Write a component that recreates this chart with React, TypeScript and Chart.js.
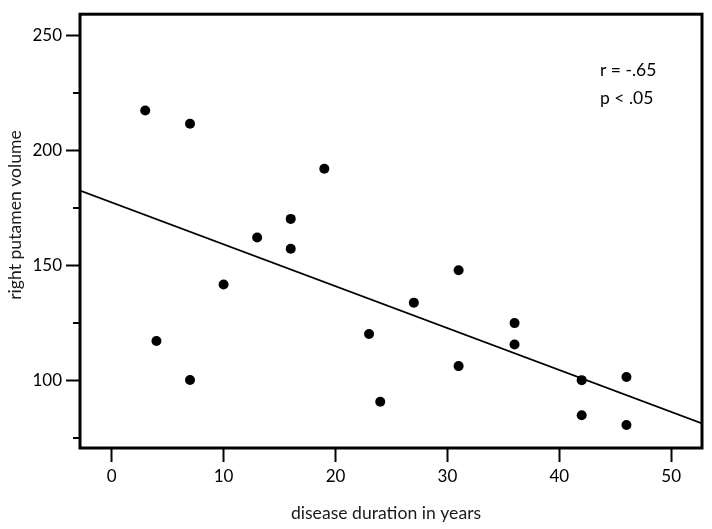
import React, { useEffect, useRef } from "react";
import { Chart, registerables } from "chart.js";

Chart.register(...registerables);

const durationYears = [3, 7, 19, 16, 13, 16, 10, 31, 27, 23, 36, 36, 31, 24, 42, 46, 42, 46, 4, 7];
const putamenVolume = [217.5, 211.8, 192.2, 170.4, 162.3, 157.4, 141.9, 148.1, 134, 120.4, 125.1, 115.8, 106.4, 90.9, 100.3, 101.7, 85, 80.8, 117.3, 100.4];
const fitLineX = [-2.83, 52.75];
const fitLineY = [182.7, 81.5];
const xTicks = [0, 10, 20, 30, 40, 50];
const yTicks = [100, 150, 200, 250];
const yMinorTicks = [75, 125, 175, 225];
const xTitle = "disease duration in years";
const yTitle = "right putamen volume";
const statsLines = ["r = -.65", "p < .05"];

const FONT = "Lato, 'Open Sans', sans-serif";

export default function App() {
  const ref = useRef<HTMLCanvasElement | null>(null);

  useEffect(() => {
    if (!ref.current) return;
    const framePlugin = {
      id: "frame",
      afterDraw(chart: any) {
        const { ctx, chartArea } = chart;
        const ys = chart.scales.y;
        ctx.save();
        ctx.strokeStyle = "#000";
        ctx.lineWidth = 3;
        ctx.strokeRect(chartArea.left, chartArea.top, chartArea.right - chartArea.left, chartArea.bottom - chartArea.top);
        // minor ticks on y
        ctx.lineWidth = 2;
        ctx.beginPath();
        yMinorTicks.forEach((v) => {
          const py = Math.round(ys.getPixelForValue(v));
          ctx.moveTo(chartArea.left - 7, py);
          ctx.lineTo(chartArea.left, py);
        });
        ctx.stroke();
        // titles
        ctx.fillStyle = "#1a1a1a";
        ctx.font = `17.6px ${FONT}`;
        ctx.textAlign = "center";
        ctx.textBaseline = "middle";
        ctx.fillText(xTitle, 386, 513);
        ctx.save();
        ctx.translate(15, 215);
        ctx.rotate(-Math.PI / 2);
        ctx.fillText(yTitle, 0, 0);
        ctx.restore();
        // stats annotation
        ctx.fillStyle = "#000";
        ctx.textAlign = "left";
        ctx.textBaseline = "alphabetic";
        ctx.font = `17.5px ${FONT}`;
        ctx.fillText(statsLines[0], 600, 76);
        ctx.fillText(statsLines[1], 600, 104);
        ctx.restore();
      },
    };

    const chart = new Chart(ref.current, {
      type: "scatter",
      data: {
        datasets: [
          {
            data: durationYears.map((x, i) => ({ x, y: putamenVolume[i] })),
            pointRadius: 5,
            pointHoverRadius: 5,
            backgroundColor: "#000",
            borderColor: "#000",
            borderWidth: 0,
          },
          {
            data: fitLineX.map((x, i) => ({ x, y: fitLineY[i] })),
            showLine: true,
            pointRadius: 0,
            borderColor: "#000",
            borderWidth: 1.7,
            backgroundColor: "#000",
          },
        ],
      },
      options: {
        responsive: false,
        animation: false,
        devicePixelRatio: 1,
        layout: { padding: { top: 13, right: 10, left: 0, bottom: 0 } },
        plugins: { legend: { display: false }, tooltip: { enabled: false } },
        scales: {
          x: {
            type: "linear",
            position: "bottom",
            min: -2.83,
            max: 52.75,
            afterBuildTicks: (s: any) => {
              s.ticks = xTicks.map((v) => ({ value: v }));
            },
            afterFit: (s: any) => {
              s.height = 81;
            },
            grid: { drawOnChartArea: false, drawTicks: true, tickLength: 14, tickColor: "#000", tickWidth: 2 },
            border: { display: false },
            ticks: { color: "#000", font: { family: FONT, size: 17 }, padding: 4, maxRotation: 0, autoSkip: false },
          },
          y: {
            type: "linear",
            min: 70.8,
            max: 259.4,
            afterBuildTicks: (s: any) => {
              s.ticks = yTicks.map((v) => ({ value: v }));
            },
            afterFit: (s: any) => {
              s.width = 80;
            },
            grid: { drawOnChartArea: false, drawTicks: true, tickLength: 14, tickColor: "#000", tickWidth: 2 },
            border: { display: false },
            ticks: { color: "#000", font: { family: FONT, size: 17 }, padding: 4, autoSkip: false },
          },
        },
      },
      plugins: [framePlugin],
    });
    return () => chart.destroy();
  }, []);

  return (
    <div style={{ position: "fixed", left: 0, top: 0, width: 712, height: 529, background: "#fff" }}>
      <canvas ref={ref} width={712} height={529} />
    </div>
  );
}
